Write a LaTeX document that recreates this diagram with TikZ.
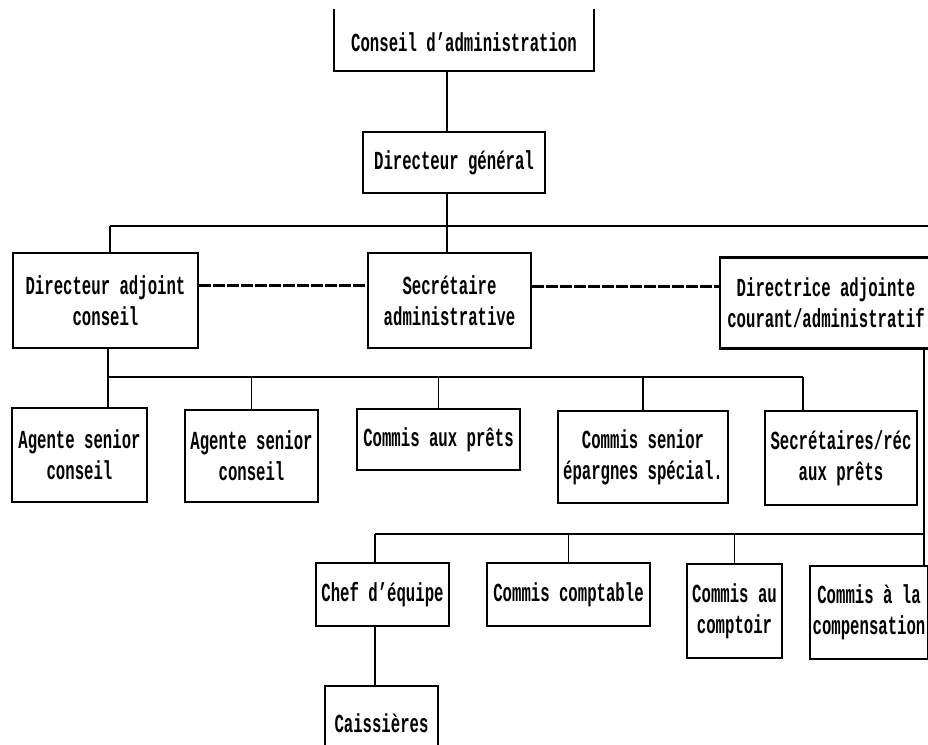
\documentclass[tikz,border=0pt]{standalone}
\usepackage{fontspec}
\newfontfamily\orgfont[FakeStretch=0.6025]{Liberation Mono}

\begin{document}
\begin{tikzpicture}[
    x=1pt, y=-1pt,
    box/.style={draw, line width=2.4pt, inner sep=0pt, align=center,
                font={\orgfont\bfseries\fontsize{26}{31}\selectfont}},
    boxsize/.style 2 args={minimum width=#1pt, minimum height=#2pt},
    link/.style={line width=1.6pt},
    bus/.style={line width=2.6pt},
    peer/.style={line width=2.4pt, dash pattern=on 12pt off 2pt},
  ]
  \useasboundingbox (0,0) rectangle (928,744);
  \clip (0,0) rectangle (928,744);

  \node[box, draw=none, boxsize={258}{56}] (ca) at (464,42) {Conseil d’administration};
  \node[box, boxsize={182}{61}] (dg)   at (454,162.5) {Directeur général};
  \node[box, boxsize={185}{95}] (dac)  at (105.5,300.5) {Directeur adjoint\\conseil};
  \node[box, boxsize={163}{95}] (sa)   at (449.5,300.5) {Secrétaire\\administrative};
  \node[box, boxsize={212}{91}] (dca)  at (826,303) {Directrice adjointe\\courant/administratif};
  \node[box, boxsize={135}{94}] (asc1) at (79.5,455) {Agente senior\\conseil};
  \node[box, boxsize={133}{92}] (asc2) at (251.5,456) {Agente senior\\conseil};
  \node[box, boxsize={163}{61}] (cap)  at (438.5,439.5) {Commis aux prêts};
  \node[box, boxsize={170}{92}] (cse)  at (643,457) {Commis senior\\épargnes spécial.};
  \node[box, boxsize={152}{94}] (srp)  at (841,458) {Secrétaires/réc\\aux prêts};
  \node[box, boxsize={133}{63}] (chef) at (382.5,594.5) {Chef d’équipe};
  \node[box, boxsize={163}{63}] (cc)   at (568.5,594.5) {Commis comptable};
  \node[box, boxsize={95}{94}]  (cac)  at (734.5,611) {Commis au\\comptoir};
  \node[box, boxsize={118}{93}] (cmp)  at (869,612.5) {Commis à la\\compensation};
  \node[box, boxsize={113}{74}] (cai)  at (381.5,723) {Caissières};

  \draw[line width=2.4pt] ([yshift=4pt]ca.north west) -- (ca.south west)
        -- (ca.south east) -- ([yshift=4pt]ca.north east);

  \coordinate (sp) at (447,0);
  \coordinate (tl) at (110,226);
  \coordinate (tr) at (960,226);
  \coordinate (ml) at (108,377);
  \coordinate (mr) at (803,377);
  \coordinate (ll) at (375,534);
  \coordinate (lr) at (924,534);

  \draw[link] (ca.south -| sp) -- (dg.north -| sp);
  \draw[link] (dg.south -| sp) -- (sa.north -| sp);
  \draw[link] (dac.north -| tl) -- (tl);
  \draw[bus]  (tl) -- (tr);

  \draw[peer] ([yshift=15pt]dac.east) -- ([yshift=15pt]dac.east -| sa.west);
  \draw[peer] ([yshift=14pt]sa.east) -- ([yshift=14pt]sa.east -| dca.west);

  \draw[link] (dac.south -| ml) -- (asc1.north -| ml);
  \draw[bus]  (ml) -- (mr);
  \draw[link] (mr) -- (srp.north -| mr);
  \draw[link] (asc2.north) -- (asc2.north |- ml);
  \draw[link] (cap.north) -- (cap.north |- ml);
  \draw[link] (cse.north) -- (cse.north |- ml);

  \draw[link] (dca.south -| lr) -- (cmp.north -| lr);
  \draw[bus]  (ll) -- (lr);
  \draw[link] (ll) -- (chef.north -| ll);
  \draw[link] (cc.north) -- (cc.north |- ll);
  \draw[link] (cac.north) -- (cac.north |- ll);
  \draw[link] (chef.south -| ll) -- (cai.north -| ll);
\end{tikzpicture}
\end{document}
